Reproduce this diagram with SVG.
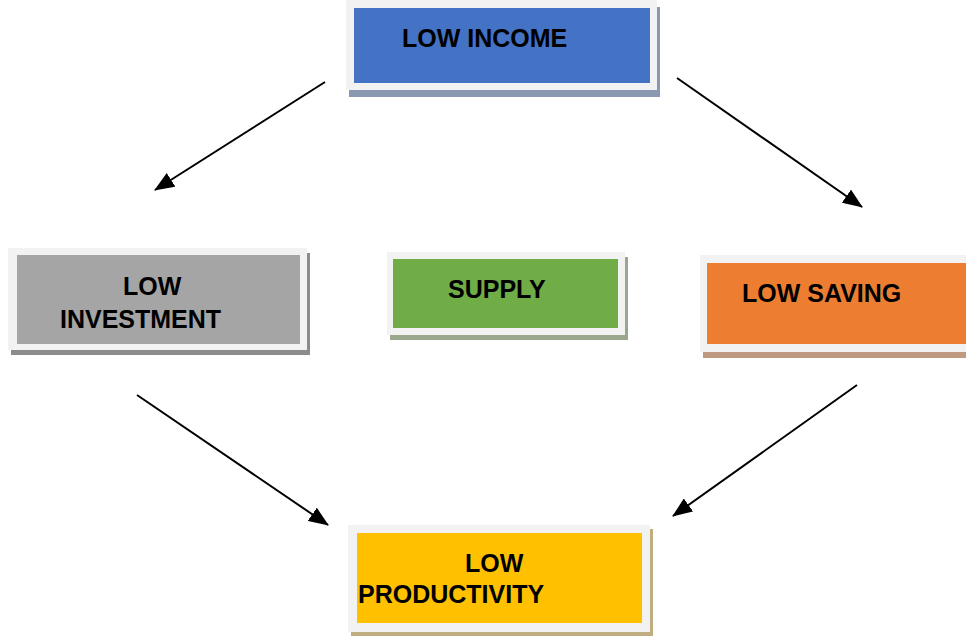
<svg xmlns="http://www.w3.org/2000/svg" width="966" height="636" viewBox="0 0 966 636">
<style>
.frame{fill:#f2f2f2}
.lbl{font-family:"Liberation Sans",Arial,sans-serif;font-weight:bold;font-size:25px;fill:#000}
.conn{stroke:#000;stroke-width:2;fill:none;marker-end:url(#ah)}
</style>
<defs>
<marker id="ah" markerUnits="userSpaceOnUse" markerWidth="20" markerHeight="16" viewBox="0 0 20 16" refX="19" refY="8" orient="auto">
<path d="M0,0 L20,8 L0,16 Z" fill="#000"/>
</marker>
</defs>
<rect width="966" height="636" fill="#fff"/>
<g id="low-income">
<rect x="349" y="7" width="311" height="90" fill="#8a98b2"/>
<rect class="frame" x="346" y="0" width="311" height="90"/>
<rect x="354" y="8" width="296" height="75" fill="#4472c4"/>
<text class="lbl" x="402" y="47">LOW INCOME</text>
</g>
<g id="low-investment">
<rect x="11" y="253" width="299" height="102" fill="#8c8c8c"/>
<rect class="frame" x="8" y="248" width="299" height="102"/>
<rect x="17" y="255" width="283" height="89" fill="#a5a5a5"/>
<text class="lbl" x="123" y="295">LOW</text>
<text class="lbl" x="60" y="328">INVESTMENT</text>
</g>
<g id="supply">
<rect x="390" y="257" width="238" height="83" fill="#9aa78c"/>
<rect class="frame" x="387" y="252" width="238" height="83"/>
<rect x="393" y="259" width="225" height="69" fill="#70ad47"/>
<text class="lbl" x="448" y="298">SUPPLY</text>
</g>
<g id="low-saving">
<rect x="703" y="261" width="280" height="97" fill="#c09a80"/>
<rect class="frame" x="700" y="255" width="280" height="97"/>
<rect x="707" y="263" width="270" height="81" fill="#ed7d31"/>
<text class="lbl" x="742" y="302">LOW SAVING</text>
</g>
<g id="low-productivity">
<rect x="351" y="529" width="302" height="107" fill="#bfae80"/>
<rect class="frame" x="348" y="525" width="302" height="107"/>
<rect x="357" y="533" width="285" height="90" fill="#ffc000"/>
<text class="lbl" x="465" y="572">LOW</text>
<text class="lbl" x="358" y="603">PRODUCTIVITY</text>
</g>
<g id="connectors">
<line class="conn" x1="325" y1="82" x2="155" y2="190"/>
<line class="conn" x1="677" y1="78" x2="862" y2="207"/>
<line class="conn" x1="137" y1="395" x2="328" y2="525"/>
<line class="conn" x1="857" y1="385" x2="673" y2="516"/>
</g>
</svg>
